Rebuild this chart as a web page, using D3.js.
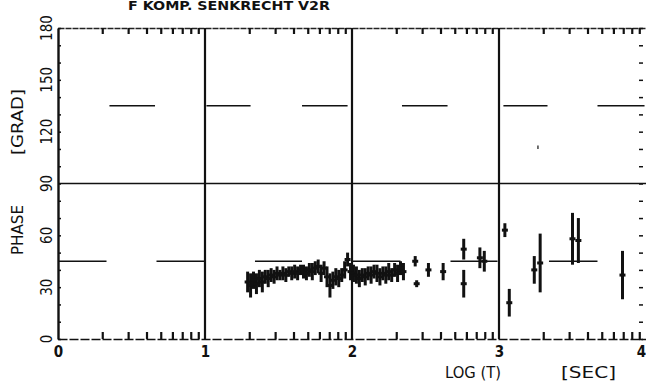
<!DOCTYPE html>
<html>
<head>
<meta charset="utf-8">
<script src="https://cdn.jsdelivr.net/npm/d3@7"></script>
<style>
  body { margin: 0; background: #fff; }
  text { font-family: "DejaVu Sans Condensed", "Liberation Sans Narrow", sans-serif; fill: #111; }
</style>
</head>
<body>
<div id="chart"></div>
<script>
var svgWidth = 646;
var svgHeight = 382;

// measured phase points (log T in decades, phase in degrees, half error)
var logT = [1.29, 1.31, 1.33, 1.35, 1.37, 1.39, 1.41, 1.43, 1.45, 1.47, 1.49, 1.51, 1.53, 1.55, 1.57, 1.59,
    1.61, 1.63, 1.65, 1.67, 1.69, 1.71, 1.73, 1.75, 1.77, 1.79, 1.81, 1.83, 1.85, 1.87, 1.89, 1.91, 1.93,
    1.95, 1.97, 1.99, 2.01, 2.03, 2.05, 2.07, 2.09, 2.11, 2.13, 2.15, 2.17, 2.19, 2.21, 2.23, 2.25, 2.27,
    2.29, 2.31, 2.33, 2.35,
    2.43, 2.44, 2.52, 2.62, 2.76, 2.76, 2.87, 2.90, 3.04, 3.07, 3.24, 3.265, 3.28, 3.50, 3.54, 3.84];
var phase = [33, 31, 34, 32, 35, 33, 36, 35, 37, 36, 38, 37, 38, 37, 39, 38,
    39, 38, 40, 39, 38, 40, 39, 41, 42, 38, 41, 36, 31, 34, 36, 35, 37,
    40, 46, 39, 38, 37, 35, 37, 36, 38, 37, 39, 38, 36, 38, 37, 39, 37,
    40, 38, 41, 39,
    45, 32, 40, 39, 52, 32, 47, 45, 63, 21, 40, 111, 44, 58, 57, 37];
var phaseErr = [6, 7, 5, 6, 5, 6, 4, 5, 4, 4, 4, 3, 4, 4, 3, 4,
    4, 4, 3, 4, 4, 4, 5, 4, 4, 5, 4, 6, 7, 5, 5, 5, 4,
    5, 4, 5, 5, 5, 5, 4, 5, 4, 5, 4, 5, 5, 4, 5, 5, 4,
    4, 5, 4, 5,
    3, 2, 4, 5, 6, 8, 6, 6, 4, 8, 8, 1, 17, 15, 13, 14];

// dashed reference levels at 45 and 135 degrees (segments in log T)
var ref45Segs = [[0.0, 0.33], [0.67, 1.0], [1.34, 1.66], [2.0, 2.33], [2.67, 2.99], [3.34, 3.67]];
var ref135Segs = [[0.35, 0.66], [1.01, 1.31], [1.66, 1.97], [2.34, 2.65], [3.03, 3.33], [3.67, 3.99]];

var decades = [0, 1, 2, 3, 4];
var minorMult = [2, 3, 4, 5, 6, 7, 8, 9];
var yTickLabels = [0, 30, 60, 90, 120, 150, 180];

var svg = d3.select("#chart")
    .append("svg")
    .attr("width", svgWidth)
    .attr("height", svgHeight);

var x = d3.scaleLinear().domain([0, 4]).range([58, 646]);
var y = d3.scaleLinear().domain([0, 180]).range([339, 28]);

var points = logT.map(function (t, i) {
    return { t: t, p: phase[i], e: phaseErr[i] };
});

// minor log ticks inside every decade
var minorTicks = [];
decades.slice(0, 4).forEach(function (d) {
    minorMult.forEach(function (m) { minorTicks.push(d + Math.log10(m)); });
});

// bottom axis with ticks pointing up
var bottomAxis = svg.append("g")
    .attr("transform", `translate(0, ${y(0)})`)
    .call(d3.axisBottom(x).tickValues(minorTicks).tickSize(-7).tickFormat("").tickSizeOuter(0));
bottomAxis.select(".domain").attr("stroke", "#111").attr("stroke-width", 1.6).attr("stroke-dasharray", "9,2");
bottomAxis.selectAll(".tick line").attr("stroke", "#111").attr("stroke-width", 2.2);

// top axis with ticks pointing down
var topAxis = svg.append("g")
    .attr("transform", `translate(0, ${y(180)})`)
    .call(d3.axisTop(x).tickValues(minorTicks).tickSize(-6).tickFormat("").tickSizeOuter(0));
topAxis.select(".domain").attr("stroke", "#222").attr("stroke-width", 1.3).attr("stroke-dasharray", "6,1");
topAxis.selectAll(".tick line").attr("stroke", "#111").attr("stroke-width", 2.2);

// x tick labels
svg.append("g")
    .attr("transform", `translate(0, ${y(0)})`)
    .call(d3.axisBottom(x).tickValues(decades).tickSize(0).tickPadding(7).tickFormat(d3.format("d")))
    .call(g => g.select(".domain").remove())
    .selectAll("text")
    .attr("font-size", 15)
    .attr("font-weight", "bold")
    .attr("dx", d => d === 4 ? -5 : 0)
    .style("font-family", "DejaVu Sans Condensed, sans-serif");

// left axis and minor ticks every 10 degrees
var leftAxis = svg.append("g")
    .attr("transform", `translate(${x(0)}, 0)`)
    .call(d3.axisLeft(y).tickValues(d3.range(0, 181, 10)).tickSize(-3).tickFormat("").tickSizeOuter(0));
leftAxis.select(".domain").attr("stroke", "#111").attr("stroke-width", 2.4);
leftAxis.selectAll(".tick line").attr("stroke", "#111").attr("stroke-width", 1.5);

var rightAxis = svg.append("g")
    .attr("transform", `translate(643, 0)`)
    .call(d3.axisRight(y).tickValues(d3.range(0, 181, 10)).tickSize(-4).tickFormat("").tickSizeOuter(0));
rightAxis.select(".domain").remove();
rightAxis.selectAll(".tick line").attr("stroke", "#111").attr("stroke-width", 1.5);

// rotated y tick labels
svg.append("g").selectAll("text")
    .data(yTickLabels)
    .enter()
    .append("text")
    .attr("transform", d => `translate(47, ${y(d)}) rotate(-90)`)
    .attr("text-anchor", "middle")
    .attr("dy", "0.36em")
    .attr("font-size", 15)
    .text(d => d);

// decade divider lines
svg.append("g").selectAll("line")
    .data(decades.slice(1, 4))
    .enter()
    .append("line")
    .attr("x1", d => x(d)).attr("x2", d => x(d))
    .attr("y1", y(180)).attr("y2", y(0))
    .attr("stroke", "#111")
    .attr("stroke-width", 2.2);

// 90 degree line
svg.append("line")
    .attr("x1", x(0)).attr("x2", x(4))
    .attr("y1", y(90)).attr("y2", y(90))
    .attr("stroke", "#111")
    .attr("stroke-width", 1.5);

// 45 and 135 degree dashed levels
function drawSegs(segs, level) {
    svg.append("g").selectAll("line")
        .data(segs)
        .enter()
        .append("line")
        .attr("x1", d => x(d[0])).attr("x2", d => x(d[1]))
        .attr("y1", y(level)).attr("y2", y(level))
        .attr("stroke", "#111")
        .attr("stroke-width", 1.4);
}
drawSegs(ref45Segs, 45);
drawSegs(ref135Segs, 135);

// data points with error bars
var marks = svg.append("g");
marks.selectAll("line.err")
    .data(points)
    .enter()
    .append("line")
    .attr("class", "err")
    .attr("x1", d => x(d.t)).attr("x2", d => x(d.t))
    .attr("y1", d => y(d.p - d.e)).attr("y2", d => y(d.p + d.e))
    .attr("stroke", "#111")
    .attr("stroke-width", d => d.e < 2 ? 1.2 : 3);
marks.selectAll("line.pt")
    .data(points.filter(d => d.e >= 2))
    .enter()
    .append("line")
    .attr("class", "pt")
    .attr("x1", d => x(d.t) - 3).attr("x2", d => x(d.t) + 3)
    .attr("y1", d => y(d.p)).attr("y2", d => y(d.p))
    .attr("stroke", "#111")
    .attr("stroke-width", 3);

// title and axis labels
svg.append("text")
    .attr("x", 128).attr("y", 10)
    .attr("font-size", 12)
    .attr("font-weight", "bold")
    .attr("textLength", 202)
    .attr("lengthAdjust", "spacingAndGlyphs")
    .text("F KOMP. SENKRECHT V2R");

svg.append("text")
    .attr("transform", "translate(18, 230) rotate(-90)")
    .attr("text-anchor", "middle")
    .attr("dy", "0.36em")
    .attr("font-size", 15)
    .attr("textLength", 50)
    .attr("lengthAdjust", "spacingAndGlyphs")
    .text("PHASE");

svg.append("text")
    .attr("transform", "translate(18, 122) rotate(-90)")
    .attr("text-anchor", "middle")
    .attr("dy", "0.36em")
    .attr("font-size", 15)
    .attr("textLength", 66)
    .attr("lengthAdjust", "spacingAndGlyphs")
    .text("[GRAD]");

svg.append("text")
    .attr("x", 445).attr("y", 378)
    .attr("font-size", 15)
    .attr("textLength", 56)
    .attr("lengthAdjust", "spacingAndGlyphs")
    .text("LOG (T)");

svg.append("text")
    .attr("x", 561).attr("y", 378)
    .attr("font-size", 15)
    .attr("textLength", 55)
    .attr("lengthAdjust", "spacingAndGlyphs")
    .text("[SEC]");
</script>
</body>
</html>
